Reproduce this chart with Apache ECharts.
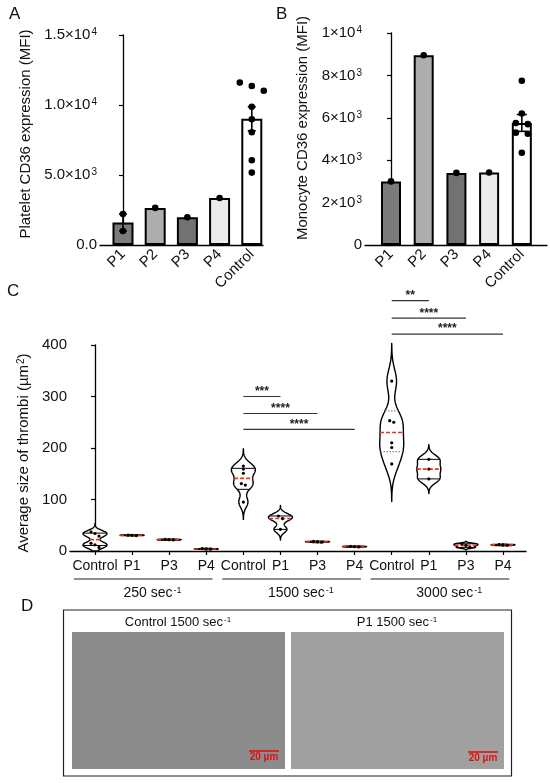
<!DOCTYPE html>
<html><head><meta charset="utf-8">
<script src="https://cdn.jsdelivr.net/npm/echarts@6/dist/echarts.min.js"></script>
<style>html,body{margin:0;padding:0;background:#fff}#c{width:550px;height:783px}</style>
</head><body><div id="c"></div>
<script>
// ---------- Panel A: platelet CD36 (MFI) ----------
const barCats = ['P1', 'P2', 'P3', 'P4', 'Control'];
const plateletP1 = [2214, 1000];
const plateletP2 = [2650];
const plateletP3 = [1980];
const plateletP4 = [3360];
const plateletControl = [11600, 11360, 11020, 9880, 8980, 8050, 6050, 5170];
const aTickValues = [0, 5000, 10000, 15000];
const aTickLabels = ['0.0', '5.0×10^3', '1.0×10^4', '1.5×10^4'];

// ---------- Panel B: monocyte CD36 (MFI) ----------
const monocyteP1 = [3000];
const monocyteP2 = [8950];
const monocyteP3 = [3400];
const monocyteP4 = [3420];
const monocyteControl = [7750, 6200, 5700, 5750, 5250, 5300, 4350];
const bTickValues = [0, 2000, 4000, 6000, 8000, 10000];
const bTickLabels = ['0', '2×10^3', '4×10^3', '6×10^3', '8×10^3', '1×10^4'];

// ---------- Panel C: average thrombus size (µm²) ----------
const violinCats = ['Control', 'P1', 'P3', 'P4', 'Control', 'P1', 'P3', 'P4', 'Control', 'P1', 'P3', 'P4'];
const shearGroups = ['250 sec^-1', '1500 sec^-1', '3000 sec^-1'];
const ctrl250 = [7, 12, 15, 29, 34, 37];
const p1at250 = [30, 30.5, 31];
const p3at250 = [21.5, 22, 22.5];
const p4at250 = [3.5, 4, 4.5];
const ctrl1500 = [95, 128, 131, 151, 159, 165];
const p1at1500 = [42, 63, 68];
const p3at1500 = [17, 17.8, 18.5];
const p4at1500 = [8, 8.5, 9];
const ctrl3000 = [169, 201, 210, 250, 253, 330];
const p1at3000 = [140, 159, 178];
const p3at3000 = [7, 11, 14];
const p4at3000 = [11, 11.8, 12.5];
const cTickValues = [0, 100, 200, 300, 400];
const cTickLabels = ['0', '100', '200', '300', '400'];
// significance brackets (category index from/to, level in µm², label)
const sigFrom = [4, 4, 4, 8, 8, 8];
const sigTo = [5, 6, 7, 9, 10, 11];
const sigLevel = [300, 267, 236, 486, 452, 421];
const sigText = ['***', '****', '****', '**', '****', '****'];

// ---------- Panel D ----------
const imageTitles = ['Control 1500 sec^-1', 'P1 1500 sec^-1'];
const scaleBarText = '20 µm';

// ================= rendering =================
const FONT = '"Liberation Sans", Arial, Helvetica, sans-serif';
const INK = '#111';
const plateletGroups = [plateletP1, plateletP2, plateletP3, plateletP4, plateletControl];
const monocyteGroups = [monocyteP1, monocyteP2, monocyteP3, monocyteP4, monocyteControl];
const violinGroups = [ctrl250, p1at250, p3at250, p4at250, ctrl1500, p1at1500, p3at1500, p4at1500, ctrl3000, p1at3000, p3at3000, p4at3000];
const barFills = ['#7b7b7b', '#adadad', '#727272', '#ebebeb', '#ffffff'];
const quartileDotted = [false, false, false, false, false, false, false, false, true, false, false, false];

const mean = a => a.reduce((s, v) => s + v, 0) / a.length;
const sd = a => { const m = mean(a); return Math.sqrt(a.reduce((s, v) => s + (v - m) * (v - m), 0) / Math.max(1, a.length - 1)); };
const sem = a => sd(a) / Math.sqrt(a.length);
const toRich = s => s.replace(/\^(-?\d+)/g, (m, p) => '{sup|' + p + '}');
function supRich(size) {
  return { sup: { fontSize: size, verticalAlign: 'top', fontFamily: FONT, color: INK, padding: [0, 0, 0, 1] } };
}
function percentile(sorted, p) {
  const n = sorted.length;
  let pos = p * (n + 1);
  if (pos <= 1) return sorted[0];
  if (pos >= n) return sorted[n - 1];
  const lo = Math.floor(pos), f = pos - lo;
  return sorted[lo - 1] + f * (sorted[lo] - sorted[lo - 1]);
}
// spread overlapping dots horizontally (pixel y values) -> pixel x offsets
function spread(ys, thresh, step) {
  const idx = ys.map((v, i) => i).sort((a, b) => ys[a] - ys[b]);
  const off = new Array(ys.length).fill(0);
  let cl = [idx[0]];
  const flush = () => { const k = cl.length; cl.forEach((j, n) => off[j] = (n - (k - 1) / 2) * step); };
  for (let n = 1; n < idx.length; n++) {
    if (ys[idx[n]] - ys[idx[n - 1]] < thresh) cl.push(idx[n]); else { flush(); cl = [idx[n]]; }
  }
  flush();
  return off;
}

function barExtras(groups, dotR, step, capHalf) {
  return function (params, api) {
    const i = api.value(0);
    const vals = groups[i];
    const children = [];
    if (vals.length > 1) {
      const m = mean(vals), se = sem(vals);
      const t = api.coord([i, m + se]), b = api.coord([i, m - se]);
      const st = { stroke: '#000', lineWidth: 1.6 };
      children.push({ type: 'line', shape: { x1: t[0], y1: t[1], x2: b[0], y2: b[1] }, style: st });
      children.push({ type: 'line', shape: { x1: t[0] - capHalf, y1: t[1], x2: t[0] + capHalf, y2: t[1] }, style: st });
      children.push({ type: 'line', shape: { x1: b[0] - capHalf, y1: b[1], x2: b[0] + capHalf, y2: b[1] }, style: st });
    }
    const pts = vals.map(v => api.coord([i, v]));
    const off = spread(pts.map(p => p[1]), dotR * 2 - 0.5, step);
    pts.forEach((p, k) => children.push({ type: 'circle', shape: { cx: p[0] + off[k], cy: p[1], r: dotR }, style: { fill: '#000' } }));
    return { type: 'group', children };
  };
}

const HALF_W = 12;
function violinItem(params, api) {
  const i = api.value(0);
  const vals = violinGroups[i];
  const s = [...vals].sort((a, b) => a - b);
  const n = s.length;
  const h = Math.max(0.55 * 1.06 * sd(s) * Math.pow(n, -0.2), 0.15);
  const dens = y => s.reduce((acc, v) => { const u = (y - v) / h; return acc + Math.exp(-0.5 * u * u); }, 0);
  const lo = Math.max(0, s[0] - 3.2 * h), hi = s[n - 1] + 3.2 * h;
  const N = 120;
  const ys = [], ds = [];
  for (let k = 0; k <= N; k++) { const y = lo + (hi - lo) * k / N; ys.push(y); ds.push(dens(y)); }
  const dmax = Math.max(...ds);
  const wAt = y => dens(y) / dmax * HALF_W;
  const right = [], left = [];
  ys.forEach((y, k) => { const p = api.coord([i, y]); const w = ds[k] / dmax * HALF_W; right.push([p[0] + w, p[1]]); left.push([p[0] - w, p[1]]); });
  const poly = right.concat(left.reverse());
  const children = [{ type: 'polygon', shape: { points: poly }, style: { fill: '#fff', stroke: '#000', lineWidth: 1.4, lineJoin: 'round' } }];
  const hline = (y, style) => { const p = api.coord([i, y]); const w = wAt(y); return { type: 'line', shape: { x1: p[0] - w, y1: p[1], x2: p[0] + w, y2: p[1] }, style }; };
  const qStyle = quartileDotted[i] ? { stroke: '#8a8a8a', lineWidth: 1.2, lineDash: [1.5, 1.5] } : { stroke: '#000', lineWidth: 1 };
  if (n > 2) {
    children.push(hline(percentile(s, 0.25), qStyle));
    children.push(hline(percentile(s, 0.75), qStyle));
  }
  children.push(hline(percentile(s, 0.5), { stroke: '#e8341c', lineWidth: 1.6, lineDash: [4, 2] }));
  const pts = vals.map(v => api.coord([i, v]));
  const off = spread(pts.map(p => p[1]), 3, 4);
  pts.forEach((p, k) => children.push({ type: 'circle', shape: { cx: p[0] + off[k], cy: p[1], r: 1.6 }, style: { fill: '#000' } }));
  return { type: 'group', children };
}

function sigItem(params, api) {
  const a = api.coord([api.value(0), api.value(1)]);
  const b = api.coord([api.value(2), api.value(1)]);
  return {
    type: 'group', children: [
      { type: 'line', shape: { x1: a[0], y1: a[1], x2: b[0], y2: b[1] }, style: { stroke: '#333', lineWidth: 1.2 } },
      { type: 'text', style: { x: (a[0] + b[0]) / 2, y: a[1] + 1, text: sigText[params.dataIndex], fontSize: 12, fontWeight: 'bold', fontFamily: FONT, fill: '#222', align: 'center', verticalAlign: 'bottom' } }
    ]
  };
}

function groupItem(params, api) {
  const first = api.value(0), last = api.value(1);
  const a = api.coord([first - 0.57, 0]);
  const b = api.coord([last + 0.17, 0]);
  const c = api.coord([(first + last) / 2 + 0.05, 0]);
  return {
    type: 'group', children: [
      { type: 'line', shape: { x1: a[0], y1: a[1] + 28, x2: b[0], y2: b[1] + 28 }, style: { stroke: '#222', lineWidth: 1.1 } },
      { type: 'text', style: { x: c[0], y: c[1] + 42, text: toRich(shearGroups[params.dataIndex]), fontSize: 14, fontFamily: FONT, fill: INK, align: 'center', verticalAlign: 'middle', rich: supRich(9) } }
    ]
  };
}

const axisLine = { show: true, lineStyle: { color: '#000', width: 1.3 } };
function yAxis(gridIndex, max, interval, values, labels, name, nameGap, namePad) {
  return {
    type: 'value', gridIndex, min: 0, max, interval,
    axisLine, axisTick: { show: true, length: 4, lineStyle: { color: '#000', width: 1.2 } },
    splitLine: { show: false },
    axisLabel: { margin: 3, fontSize: 15, color: INK, fontFamily: FONT, rich: supRich(10), formatter: v => toRich(labels[values.indexOf(v)] || '') },
    name, nameLocation: 'middle', nameGap,
    nameTextStyle: { fontSize: 15, color: INK, fontFamily: FONT, padding: namePad, rich: supRich(10) }
  };
}
function xAxis(gridIndex, min, max, cats, opts) {
  return Object.assign({
    type: 'value', gridIndex, min, max,
    axisLine, splitLine: { show: false },
    axisTick: { show: false },
    axisLabel: { customValues: cats.map((c, i) => i), fontSize: 14, color: INK, fontFamily: FONT, formatter: v => cats[Math.round(v)] }
  }, opts);
}
const rotLabel = { customValues: [0, 1, 2, 3, 4], rotate: 45, margin: 7, fontSize: 15, color: INK, fontFamily: FONT, formatter: v => barCats[Math.round(v)] };

const option = {
  animation: false,
  backgroundColor: '#fff',
  grid: [
    { left: 100, top: 35, width: 163, height: 210 },
    { left: 365, top: 33, width: 182, height: 212 },
    { left: 70, top: 345, width: 456, height: 206 }
  ],
  xAxis: [
    xAxis(0, -0.714, 4.348, barCats, { axisLabel: rotLabel }),
    xAxis(1, -0.795, 4.77, barCats, { axisLabel: rotLabel }),
    xAxis(2, -0.674, 11.62, violinCats, {
      axisTick: { show: true, length: 4, customValues: violinCats.map((c, i) => i), lineStyle: { color: '#000', width: 1.2 } },
      axisLabel: { customValues: violinCats.map((c, i) => i), margin: 8, fontSize: 14, color: INK, fontFamily: FONT, formatter: v => violinCats[Math.round(v)] }
    })
  ],
  yAxis: [
    yAxis(0, 15000, 5000, aTickValues, aTickLabels, 'Platelet CD36 expression (MFI)', 67, [0, 0, 0, 12]),
    yAxis(1, 10000, 2000, bTickValues, bTickLabels, 'Monocyte CD36 expression (MFI)', 55, [0, 0, 0, 22]),
    yAxis(2, 400, 100, cTickValues, cTickLabels, 'Average size of thrombi (µm{sup|2})', 36, [0, 10, 0, 0])
  ],
  series: [
    {
      type: 'bar', xAxisIndex: 0, yAxisIndex: 0, barWidth: 21,
      data: plateletGroups.map((g, i) => ({ value: [i, mean(g)], itemStyle: { color: barFills[i], borderColor: '#000', borderWidth: 2 } }))
    },
    {
      type: 'custom', xAxisIndex: 0, yAxisIndex: 0, clip: false, z: 5,
      data: plateletGroups.map((g, i) => [i, mean(g)]), renderItem: barExtras(plateletGroups, 3.3, 12, 4)
    },
    {
      type: 'bar', xAxisIndex: 1, yAxisIndex: 1, barWidth: 20,
      data: monocyteGroups.map((g, i) => ({ value: [i, mean(g)], itemStyle: { color: barFills[i], borderColor: '#000', borderWidth: 2 } }))
    },
    {
      type: 'custom', xAxisIndex: 1, yAxisIndex: 1, clip: false, z: 5,
      data: monocyteGroups.map((g, i) => [i, mean(g)]), renderItem: barExtras(monocyteGroups, 3.3, 12, 5)
    },
    {
      type: 'custom', xAxisIndex: 2, yAxisIndex: 2, clip: false,
      data: violinGroups.map((g, i) => [i, mean(g)]), renderItem: violinItem
    },
    {
      type: 'custom', xAxisIndex: 2, yAxisIndex: 2, clip: false,
      data: sigFrom.map((f, k) => [f, sigLevel[k], sigTo[k]]), renderItem: sigItem
    },
    {
      type: 'custom', xAxisIndex: 2, yAxisIndex: 2, clip: false,
      data: shearGroups.map((g, k) => [4 * k, 4 * k + 3]), renderItem: groupItem
    }
  ],
  graphic: [
    { type: 'text', left: 9, top: 6, style: { text: 'A', fontSize: 17, fontFamily: FONT, fill: INK } },
    { type: 'text', left: 276, top: 6, style: { text: 'B', fontSize: 17, fontFamily: FONT, fill: INK } },
    { type: 'text', left: 7, top: 283, style: { text: 'C', fontSize: 17, fontFamily: FONT, fill: INK } },
    { type: 'text', left: 21, top: 598, style: { text: 'D', fontSize: 17, fontFamily: FONT, fill: INK } },
    { type: 'rect', shape: { x: 63.5, y: 610, width: 448, height: 166 }, style: { fill: 'none', stroke: '#222', lineWidth: 1.2 } },
    { type: 'rect', shape: { x: 72, y: 632, width: 213, height: 137 }, style: { fill: '#8c8c8c' } },
    { type: 'rect', shape: { x: 291, y: 632, width: 213, height: 137 }, style: { fill: '#a0a0a0' } },
    { type: 'text', x: 178, y: 622, style: { text: toRich(imageTitles[0]), fontSize: 13, fontFamily: FONT, fill: INK, align: 'center', verticalAlign: 'middle', rich: supRich(8) } },
    { type: 'text', x: 397, y: 622, style: { text: toRich(imageTitles[1]), fontSize: 13, fontFamily: FONT, fill: INK, align: 'center', verticalAlign: 'middle', rich: supRich(8) } },
    { type: 'line', shape: { x1: 249, y1: 751, x2: 279, y2: 751 }, style: { stroke: '#e01010', lineWidth: 1.6 } },
    { type: 'text', x: 264, y: 757.5, style: { text: scaleBarText, fontSize: 10, fontWeight: 'bold', fontFamily: FONT, fill: '#e01010', align: 'center', verticalAlign: 'middle' } },
    { type: 'line', shape: { x1: 468, y1: 752, x2: 498, y2: 752 }, style: { stroke: '#e01010', lineWidth: 1.6 } },
    { type: 'text', x: 483, y: 758, style: { text: scaleBarText, fontSize: 10, fontWeight: 'bold', fontFamily: FONT, fill: '#e01010', align: 'center', verticalAlign: 'middle' } }
  ]
};
const chart = echarts.init(document.getElementById('c'), null, { renderer: 'canvas' });
chart.setOption(option);
</script>
</body></html>
